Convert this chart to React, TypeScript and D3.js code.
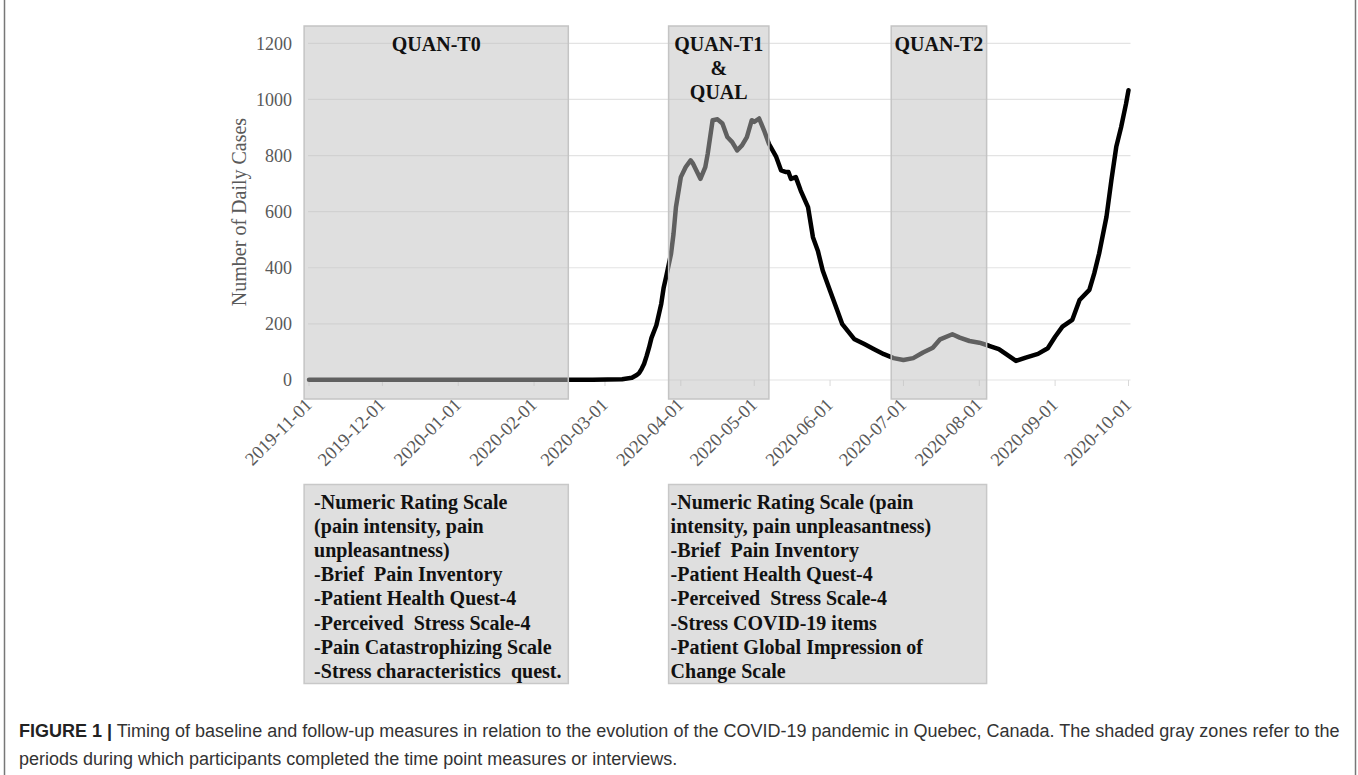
import * as d3 from 'd3';

// 7-day average of daily COVID-19 cases in Quebec
const caseDates = [
  '2019-11-01', '2020-02-25', '2020-03-08', '2020-03-12', '2020-03-14', '2020-03-15',
  '2020-03-16', '2020-03-17', '2020-03-18', '2020-03-19', '2020-03-20', '2020-03-22',
  '2020-03-24', '2020-03-25', '2020-03-26', '2020-03-28', '2020-03-29', '2020-03-30',
  '2020-04-01', '2020-04-03', '2020-04-05', '2020-04-06', '2020-04-09', '2020-04-11',
  '2020-04-12', '2020-04-14', '2020-04-16', '2020-04-18', '2020-04-20', '2020-04-22',
  '2020-04-24', '2020-04-26', '2020-04-28', '2020-04-30', '2020-05-01', '2020-05-03',
  '2020-05-05', '2020-05-07', '2020-05-10', '2020-05-12', '2020-05-14', '2020-05-15',
  '2020-05-16', '2020-05-18', '2020-05-20', '2020-05-23', '2020-05-25', '2020-05-27',
  '2020-05-29', '2020-06-01', '2020-06-04', '2020-06-06', '2020-06-11', '2020-06-15',
  '2020-06-19', '2020-06-23', '2020-06-27', '2020-07-01', '2020-07-05', '2020-07-09',
  '2020-07-13', '2020-07-16', '2020-07-21', '2020-07-24', '2020-07-28', '2020-08-01',
  '2020-08-05', '2020-08-09', '2020-08-12', '2020-08-16', '2020-08-20', '2020-08-25',
  '2020-08-29', '2020-09-01', '2020-09-04', '2020-09-08', '2020-09-11', '2020-09-15',
  '2020-09-17', '2020-09-19', '2020-09-22', '2020-09-24', '2020-09-26', '2020-09-28',
  '2020-09-30', '2020-10-01',
];
const caseValues = [
  1, 1, 3, 8, 18, 25,
  40, 58, 85, 115, 150, 195,
  272, 330, 368, 450, 520, 616,
  723, 759, 783, 771, 717, 759,
  807, 926, 929, 914, 866, 848,
  818, 836, 866, 926, 920, 932,
  890, 842, 795, 747, 741, 741,
  717, 723, 675, 616, 509, 461,
  390, 318, 247, 199, 145, 128,
  110, 92, 78, 71, 78, 98,
  115, 145, 163, 151, 139, 133,
  122, 110, 92, 68, 80, 93,
  113, 154, 190, 214, 285, 321,
  380, 451, 582, 712, 831, 902,
  985, 1033,
];

const yTicks = [0, 200, 400, 600, 800, 1000, 1200];

// measurement periods (shaded zones)
const periodStart = ['2019-10-30', '2020-03-27', '2020-06-26'];
const periodEnd = ['2020-02-15', '2020-05-07', '2020-08-04'];
const periodLabels = [['QUAN-T0'], ['QUAN-T1', '&', 'QUAL'], ['QUAN-T2']];

const baselineMeasures = [
  '-Numeric Rating Scale',
  '(pain intensity, pain',
  'unpleasantness)',
  '-Brief  Pain Inventory',
  '-Patient Health Quest-4',
  '-Perceived  Stress Scale-4',
  '-Pain Catastrophizing Scale',
  '-Stress characteristics  quest.',
];
const followUpMeasures = [
  '-Numeric Rating Scale (pain',
  'intensity, pain unpleasantness)',
  '-Brief  Pain Inventory',
  '-Patient Health Quest-4',
  '-Perceived  Stress Scale-4',
  '-Stress COVID-19 items',
  '-Patient Global Impression of',
  'Change Scale',
];

const captionBold = 'FIGURE 1 |';
const captionLines = [
  ' Timing of baseline and follow-up measures in relation to the evolution of the COVID-19 pandemic in Quebec, Canada. The shaded gray zones refer to the',
  'periods during which participants completed the time point measures or interviews.',
];

const parse = d3.utcParse('%Y-%m-%d');
const fmt = d3.utcFormat('%Y-%m-%d');
const serif = '"Liberation Serif", "Times New Roman", serif';
const sans = '"Liberation Sans", Arial, sans-serif';

export default function App() {
  const W = 1358;
  const H = 775;

  const x = d3.scaleUtc()
    .domain([parse('2019-11-01')!, parse('2020-10-01')!])
    .range([309, 1128.5]);
  const y = d3.scaleLinear().domain([0, 1200]).range([380, 43.3]);

  const data = caseDates.map((d, i) => ({ date: parse(d)!, value: caseValues[i] }));
  const line = d3.line<{ date: Date; value: number }>()
    .x(d => x(d.date))
    .y(d => y(d.value))
    .curve(d3.curveLinear);

  const months = d3.utcMonth.range(parse('2019-11-01')!, parse('2020-10-02')!);
  const [x0, x1] = x.range();

  const boxTop = 26;
  const boxBottom = 399;
  const listTop = 484.5;
  const listBottom = 683.5;
  const lineGap = 24.2;

  const lists = [
    { left: x(parse(periodStart[0])!), right: x(parse(periodEnd[0])!), pad: 10, items: baselineMeasures },
    { left: x(parse(periodStart[1])!), right: x(parse(periodEnd[2])!), pad: 2, items: followUpMeasures },
  ];

  return (
    <svg width={W} height={H} style={{ position: 'absolute', left: 0, top: 0, background: '#fff' }}>
      {/* figure frame */}
      <line x1={4.5} x2={4.5} y1={0} y2={H} stroke="#777" strokeWidth={1.5} />
      <line x1={1355.5} x2={1355.5} y1={0} y2={H} stroke="#777" strokeWidth={1.5} />

      {/* gridlines */}
      {yTicks.map(t => (
        <line key={t} x1={x0 - 1} x2={x1 + 2} y1={y(t)} y2={y(t)} stroke="#e3e3e3" strokeWidth={1.2} />
      ))}
      {months.map(m => (
        <line key={+m} x1={x(m)} x2={x(m)} y1={y(0)} y2={y(0) + 6} stroke="#d9d9d9" strokeWidth={1} />
      ))}

      {/* y axis labels */}
      {yTicks.map(t => (
        <text key={t} x={292} y={y(t)} dy="0.35em" textAnchor="end" fontFamily={serif} fontSize={18} fill="#595959">
          {t}
        </text>
      ))}
      <text
        transform={`translate(246,${212}) rotate(-90)`}
        textAnchor="middle"
        fontFamily={serif}
        fontSize={20}
        fill="#595959"
      >
        Number of Daily Cases
      </text>

      {/* x axis labels */}
      {months.map(m => (
        <text
          key={+m}
          transform={`translate(${x(m) + 4},${406}) rotate(-45)`}
          textAnchor="end"
          fontFamily={serif}
          fontSize={18.5}
          fill="#595959"
        >
          {fmt(m)}
        </text>
      ))}

      {/* case curve */}
      <path d={line(data) ?? ''} fill="none" stroke="#000" strokeWidth={4.5} strokeLinejoin="round" strokeLinecap="round" />

      {/* shaded periods */}
      {periodStart.map((s, i) => {
        const a = x(parse(s)!);
        const b = x(parse(periodEnd[i])!);
        return (
          <g key={s}>
            <rect x={a} y={boxTop} width={b - a} height={boxBottom - boxTop} fill="#bfbfbf" fillOpacity={0.5} />
            <rect x={a} y={boxTop} width={b - a} height={boxBottom - boxTop} fill="none" stroke="#c4c4c4" strokeWidth={1.5} />
            {periodLabels[i].map((lbl, j) => (
              <text
                key={lbl}
                x={(a + b) / 2}
                y={50.5 + j * 24}
                textAnchor="middle"
                fontFamily={serif}
                fontWeight="bold"
                fontSize={20}
                fill="#111"
              >
                {lbl}
              </text>
            ))}
          </g>
        );
      })}

      {/* measure lists */}
      {lists.map((l, i) => (
        <g key={i}>
          <rect x={l.left} y={listTop} width={l.right - l.left} height={listBottom - listTop} fill="#dfdfdf" stroke="#c8c8c8" strokeWidth={1.5} />
          {l.items.map((it, j) => (
            <text
              key={j}
              x={l.left + l.pad}
              y={508.5 + j * lineGap}
              fontFamily={serif}
              fontWeight="bold"
              fontSize={20}
              fill="#111"
              style={{ whiteSpace: 'pre' }}
            >
              {it}
            </text>
          ))}
        </g>
      ))}

      {/* caption */}
      <text x={19} y={737} fontFamily={sans} fontSize={18} fill="#333">
        <tspan fontWeight="bold" fill="#222">{captionBold}</tspan>
        <tspan style={{ whiteSpace: 'pre' }}>{captionLines[0]}</tspan>
      </text>
      <text x={19} y={765} fontFamily={sans} fontSize={18} fill="#333">
        {captionLines[1]}
      </text>
    </svg>
  );
}
